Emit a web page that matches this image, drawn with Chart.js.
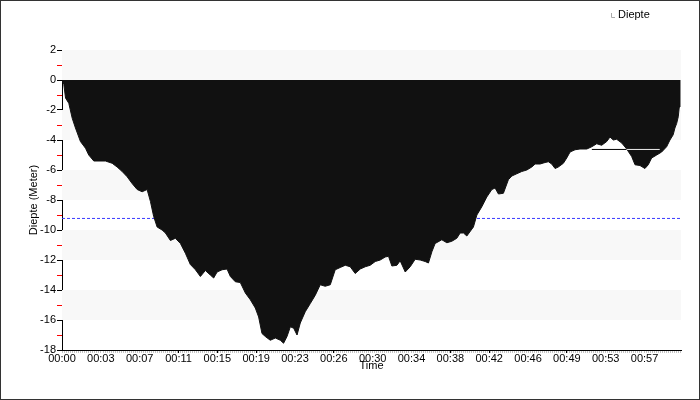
<!DOCTYPE html>
<html>
<head>
<meta charset="utf-8">
<script src="https://cdn.jsdelivr.net/npm/chart.js@4.4.1/dist/chart.umd.min.js"></script>
<style>
  html, body { margin: 0; padding: 0; background: #fff; }
  #wrap { position: absolute; left: 0; top: 0; width: 700px; height: 400px; box-sizing: border-box; border: 1px solid #333; }
</style>
</head>
<body>
<div id="wrap"><canvas id="diveChart"></canvas></div>
<script>
// dive profile, time in minutes, depth in meters
const times = [0, 0.18, 0.35, 0.67, 1.01, 1.33, 1.82, 2.32, 2.64, 3.14, 4.29, 4.95, 5.44, 5.94, 6.43, 6.92, 7.42, 7.91, 8.40, 8.73,
  9.05, 9.39, 9.88, 10.21, 10.70, 11.19, 11.69, 12.18, 12.67, 13.17, 13.66, 14.15, 14.64, 14.97, 15.31, 15.80, 16.29, 16.62, 17.11, 17.60,
  18.10, 18.59, 19.08, 19.41, 19.74, 20.07, 20.56, 21.06, 21.55, 21.87, 22.21, 22.54, 22.87, 23.20, 23.52, 24.01, 24.51, 25.00, 25.49, 25.98,
  26.48, 26.97, 27.46, 27.96, 28.45, 28.94, 29.44, 29.93, 30.42, 30.92, 31.41, 31.90, 32.23, 32.56, 33.06, 33.38, 33.88, 34.37, 34.86, 35.36,
  35.85, 36.17, 36.51, 36.83, 37.49, 37.99, 38.48, 38.97, 39.30, 39.63, 39.96, 40.61, 40.95, 41.44, 41.93, 42.43, 42.75, 43.08, 43.57, 44.06,
  44.40, 44.89, 45.38, 45.88, 46.37, 46.70, 47.19, 47.68, 48.01, 48.34, 48.67, 48.99, 49.49, 49.82, 50.15, 50.64, 51.13, 51.80, 52.29, 52.78,
  53.27, 53.77, 54.09, 54.42, 54.75, 55.25, 55.74, 56.23, 56.56, 57.05, 57.54, 57.87, 58.20, 58.70, 59.19, 59.68, 60.01, 60.33, 60.50, 60.67,
  60.83, 60.93, 61.0];
const depths = [0, -0.3, -1.2, -1.55, -2.55, -3.2, -4.1, -4.55, -5.0, -5.4, -5.4, -5.55, -5.8, -6.1, -6.45, -6.9, -7.3, -7.45, -7.3, -8.1,
  -9.1, -9.8, -10.0, -10.2, -10.7, -10.55, -10.9, -11.55, -12.3, -12.65, -13.1, -12.7, -13.0, -13.2, -12.8, -12.65, -12.6, -13.1, -13.45, -13.5,
  -14.2, -14.65, -15.2, -15.8, -16.9, -17.1, -17.35, -17.2, -17.35, -17.55, -17.1, -16.45, -16.55, -17.0, -16.2, -15.45, -14.9, -14.35, -13.65, -13.75,
  -13.65, -12.65, -12.5, -12.35, -12.45, -12.9, -12.6, -12.45, -12.35, -12.1, -12.0, -11.8, -11.75, -12.4, -12.35, -12.05, -12.8, -12.45, -11.95, -12.0,
  -12.1, -12.2, -11.45, -10.9, -10.65, -10.85, -10.75, -10.55, -10.2, -10.2, -10.4, -9.8, -9.0, -8.45, -7.8, -7.3, -7.2, -7.6, -7.55, -6.65,
  -6.4, -6.25, -6.1, -6.0, -5.8, -5.6, -5.6, -5.5, -5.45, -5.6, -5.9, -5.8, -5.55, -5.2, -4.8, -4.65, -4.6, -4.6, -4.45, -4.25,
  -4.35, -4.1, -3.8, -4.0, -3.95, -4.2, -4.6, -5.1, -5.65, -5.7, -5.9, -5.65, -5.2, -5.0, -4.8, -4.45, -4.0, -3.65, -3.2, -2.9,
  -2.45, -1.8, 0];

const xTickLabels = ["00:00", "00:03", "00:07", "00:11", "00:15", "00:19", "00:23", "00:26",
  "00:30", "00:34", "00:38", "00:42", "00:46", "00:49", "00:53", "00:57"];
const xTickStep = 23 / 6;
const xMax = 61.1;

// reference line (blue dashed) and the short marker line near the end
const refDepth = [-9.23, -9.23];
const refTimes = [0, xMax];
const stopTimes = [52.3, 59.0];
const stopDepths = [-4.63, -4.63];

Chart.defaults.font.family = '"Liberation Sans", Arial, sans-serif';
Chart.defaults.font.size = 11;
Chart.defaults.color = "#000";

const toPoints = (xs, ys) => xs.map((x, i) => ({ x: x, y: ys[i] }));

const bandsPlugin = {
  id: "bands",
  beforeDraw(chart) {
    const ctx = chart.ctx;
    ctx.save();
    ctx.fillStyle = "#fff";
    ctx.fillRect(0, 0, chart.width, chart.height);
    ctx.restore();
  },
  beforeDatasetsDraw(chart) {
    const { ctx, chartArea, scales } = chart;
    const y = scales.y;
    ctx.save();
    ctx.fillStyle = "#f8f8f8";
    for (let v = y.max; v > y.min; v -= 4) {
      const top = y.getPixelForValue(v);
      const bot = y.getPixelForValue(v - 2);
      ctx.fillRect(chartArea.left, top, chartArea.right - chartArea.left, bot - top);
    }
    ctx.restore();
  },
  beforeDatasetDraw(chart, args) {
    if (chart.data.datasets[args.index].xor) {
      chart.ctx.save();
      chart.ctx.globalCompositeOperation = "difference";
    }
  },
  afterDatasetDraw(chart, args) {
    if (chart.data.datasets[args.index].xor) {
      chart.ctx.restore();
    }
  },
  afterDraw(chart) {
    const { ctx, chartArea, scales } = chart;
    const x = scales.x;
    ctx.save();
    // minor ticks under the time axis
    ctx.fillStyle = "#c4c4c4";
    for (let v = 0; v <= x.max; v += 0.2) {
      ctx.fillRect(Math.round(x.getPixelForValue(v)), chartArea.bottom + 1, 1, 2);
    }
    // legend
    const lx = chartArea.right - 70;
    ctx.strokeStyle = "#aaa";
    ctx.lineWidth = 1;
    ctx.beginPath();
    ctx.moveTo(lx + 0.5, 12);
    ctx.lineTo(lx + 0.5, 16.5);
    ctx.lineTo(lx + 4, 16.5);
    ctx.stroke();
    ctx.fillStyle = "#000";
    ctx.font = '11px "Liberation Sans", Arial, sans-serif';
    ctx.textBaseline = "middle";
    ctx.fillText("Diepte", lx + 7, 14);
    ctx.restore();
  },
};

new Chart(document.getElementById("diveChart"), {
  type: "line",
  data: {
    datasets: [
      {
        label: "Diepte",
        data: toPoints(times, depths),
        borderColor: "#111",
        backgroundColor: "#111",
        borderWidth: 1,
        fill: "origin",
        pointRadius: 0,
        tension: 0,
        order: 2,
      },
      {
        label: "ref",
        data: toPoints(refTimes, refDepth),
        borderColor: "#3a3aff",
        borderWidth: 1,
        borderDash: [3, 2],
        fill: false,
        pointRadius: 0,
        order: 3,
      },
      {
        label: "stop",
        data: toPoints(stopTimes, stopDepths),
        borderColor: "#fff",
        borderWidth: 1,
        fill: false,
        pointRadius: 0,
        order: 1,
        xor: true,
      },
    ],
  },
  options: {
    responsive: true,
    maintainAspectRatio: false,
    animation: false,
    layout: { padding: { top: 49, right: 18, bottom: 26, left: 0 } },
    plugins: {
      legend: { display: false },
      tooltip: { enabled: false },
    },
    scales: {
      x: {
        type: "linear",
        min: 0,
        max: xMax,
        afterBuildTicks: (scale) => {
          scale.ticks = xTickLabels.map((l, i) => ({ value: i * xTickStep }));
        },
        afterFit: (scale) => { scale.height = 23; },
        ticks: {
          autoSkip: false,
          maxRotation: 0,
          padding: -1,
          callback: (v, i) => xTickLabels[i],
        },
        grid: { drawOnChartArea: false, tickLength: 3, color: "#000" },
        border: { color: "#000" },
        title: { display: true, text: "Time", padding: { top: 0, bottom: 0 } },
      },
      y: {
        min: -18,
        max: 2,
        afterFit: (scale) => { scale.width = 61; },
        ticks: {
          stepSize: 1,
          autoSkip: false,
          padding: 1,
          callback: (v) => (v % 2 === 0 ? v : ""),
        },
        grid: {
          drawOnChartArea: false,
          tickLength: 5,
          tickColor: (c) => (c.tick && Math.abs(c.tick.value % 2) === 1 ? "#ff0000" : "#000"),
        },
        border: { color: "#000" },
        title: { display: true, text: "Diepte (Meter)", padding: { top: 26, bottom: 0 } },
      },
    },
  },
  plugins: [bandsPlugin],
});
</script>
</body>
</html>
